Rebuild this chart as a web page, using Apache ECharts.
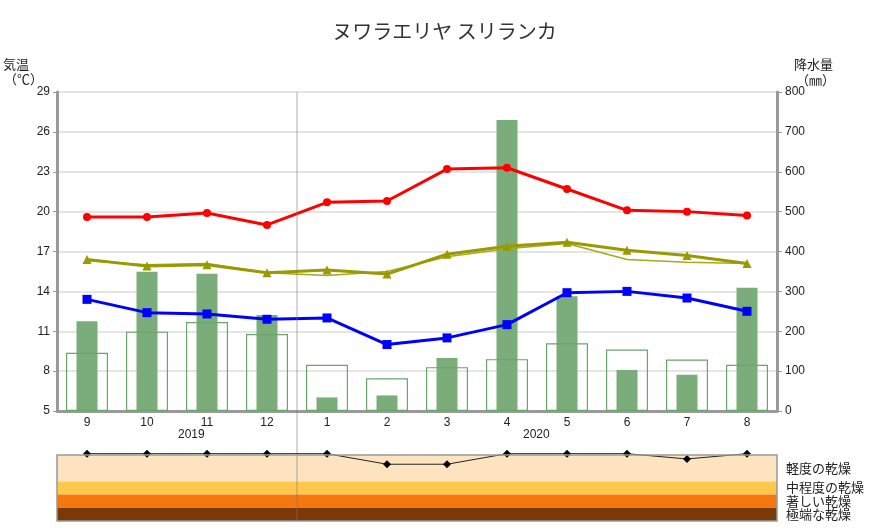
<!DOCTYPE html>
<html>
<head>
<meta charset="utf-8">
<script src="https://cdn.jsdelivr.net/npm/echarts@6/dist/echarts.min.js"></script>
<style>
  html, body { margin: 0; padding: 0; background: #fff; }
  #main { width: 889px; height: 530px; }
</style>
</head>
<body>
<div id="main"></div>
<script>
// 月（2019/9 - 2020/8）
const months = ['9', '10', '11', '12', '1', '2', '3', '4', '5', '6', '7', '8'];
// 気温（℃）
const tMax = [19.6, 19.6, 19.9, 19.0, 20.7, 20.8, 23.2, 23.3, 21.7, 20.1, 20.0, 19.7];
const tMin = [13.4, 12.4, 12.3, 11.9, 12.0, 10.0, 10.5, 11.5, 13.9, 14.0, 13.5, 12.5];
const tMean = [16.4, 15.9, 16.0, 15.4, 15.6, 15.3, 16.8, 17.4, 17.7, 17.1, 16.7, 16.1];
const tMeanNormal = [16.3, 16.0, 16.1, 15.4, 15.2, 15.5, 16.6, 17.2, 17.6, 16.4, 16.2, 16.1];
// 降水量（mm）
const precip = [225, 349, 344, 241, 34, 39, 133, 730, 288, 103, 91, 309];
const precipNormal = [146, 199, 223, 193, 116, 82, 110, 130, 170, 154, 129, 116];
// 乾燥度
const drought = [0.1, 0.1, 0.1, 0.1, 0.1, -0.7, -0.7, 0.1, 0.1, 0.1, -0.3, 0.1];
const droughtBands = [[0, -2], [-2, -3], [-3, -4], [-4, -5]];
const droughtColors = ['#fde3c0', '#ffc84a', '#f4780f', '#7a3a08'];
const droughtNames = ['軽度の乾燥', '中程度の乾燥', '著しい乾燥', '極端な乾燥'];

const FONT = 'Liberation Sans, Noto Sans CJK JP, sans-serif';
const JP = 'Noto Sans CJK JP, sans-serif';

const chart = echarts.init(document.getElementById('main'));

const option = {
    animation: false,
    backgroundColor: '#fff',
    title: {
        text: 'ヌワラエリヤ スリランカ',
        left: 'center',
        top: 16,
        textStyle: { fontSize: 20, fontWeight: 'normal', color: '#333', fontFamily: JP }
    },
    grid: [
        { left: 57, right: 112, top: 92, bottom: 119 },
        { left: 57, right: 112, top: 455, bottom: 9 }
    ],
    xAxis: [
        {
            type: 'category', gridIndex: 0, data: months,
            axisLine: { lineStyle: { color: '#999', width: 3 } },
            axisTick: { length: 15, lineStyle: { color: '#999', width: 1 } },
            axisLabel: { color: '#222', fontSize: 12, margin: 6, fontFamily: FONT }
        },
        { type: 'category', gridIndex: 0, data: months, show: false },
        { type: 'category', gridIndex: 1, data: months, show: false }
    ],
    yAxis: [
        {
            type: 'value', gridIndex: 0, min: 5, max: 29, interval: 3,
            axisLine: { show: true, lineStyle: { color: '#999', width: 3 } },
            axisTick: { show: true, length: 4, lineStyle: { color: '#999' } },
            splitLine: { lineStyle: { color: '#dcdcdc', width: 1.5 } },
            axisLabel: { color: '#222', fontSize: 12, margin: 7, fontFamily: FONT }
        },
        {
            type: 'value', gridIndex: 0, position: 'right', min: 0, max: 800, interval: 100,
            axisLine: { show: true, lineStyle: { color: '#999', width: 3 } },
            axisTick: { show: true, length: 5, lineStyle: { color: '#999' } },
            splitLine: { show: false },
            axisLabel: { color: '#222', fontSize: 12, margin: 8, fontFamily: FONT }
        },
        { type: 'value', gridIndex: 1, min: -5, max: 0, show: false }
    ],
    series: [
        {
            name: '降水量', type: 'bar', xAxisIndex: 0, yAxisIndex: 1,
            data: precip, barWidth: 21,
            itemStyle: { color: '#7aad7a' }
        },
        {
            name: '降水量平年値', type: 'bar', xAxisIndex: 1, yAxisIndex: 1,
            data: precipNormal, barWidth: 42,
            itemStyle: { color: 'rgba(0,0,0,0)', borderColor: '#6aa56a', borderWidth: 1.2 }
        },
        {
            name: '平均気温平年値', type: 'line', xAxisIndex: 0, yAxisIndex: 0,
            data: tMeanNormal, symbol: 'none',
            lineStyle: { color: '#a8a820', width: 1.5 }
        },
        {
            name: '平均気温', type: 'line', xAxisIndex: 0, yAxisIndex: 0,
            data: tMean, symbol: 'triangle', symbolSize: 9,
            lineStyle: { color: '#999900', width: 3 },
            itemStyle: { color: '#999900' }
        },
        {
            name: '最低気温', type: 'line', xAxisIndex: 0, yAxisIndex: 0,
            data: tMin, symbol: 'rect', symbolSize: 9,
            lineStyle: { color: '#0000ff', width: 3 },
            itemStyle: { color: '#0000ff' }
        },
        {
            name: '最高気温', type: 'line', xAxisIndex: 0, yAxisIndex: 0,
            data: tMax, symbol: 'circle', symbolSize: 8,
            lineStyle: { color: '#ff0000', width: 3 },
            itemStyle: { color: '#ff0000' }
        },
        {
            name: '乾燥度', type: 'line', xAxisIndex: 2, yAxisIndex: 2,
            data: drought, symbol: 'diamond', symbolSize: 8, clip: false, z: 6,
            lineStyle: { color: '#222', width: 1 },
            itemStyle: { color: '#000' },
            markArea: {
                silent: true,
                data: droughtBands.map((b, i) => [
                    { yAxis: b[0], itemStyle: { color: droughtColors[i], opacity: 1 } },
                    { yAxis: b[1] }
                ])
            }
        }
    ],
    graphic: [
        // 年の区切り線
        { type: 'line', shape: { x1: 297, y1: 92, x2: 297, y2: 521 }, style: { stroke: 'rgba(120,120,120,0.6)', lineWidth: 1 }, z: 5 },
        // 乾燥度パネルの枠
        { type: 'rect', shape: { x: 57, y: 455, width: 720, height: 66 }, style: { fill: 'none', stroke: '#999', lineWidth: 1.5 }, z: 10 },
        { type: 'text', left: 178, top: 429, style: { text: '2019', fill: '#222', font: '12px ' + FONT } },
        { type: 'text', left: 523, top: 429, style: { text: '2020', fill: '#222', font: '12px ' + FONT } },
        { type: 'text', left: 3, top: 58, style: { text: '気温', font: '13px ' + JP, fill: '#222' } },
        { type: 'text', left: 4, top: 73, style: { text: '（℃）', font: '13px ' + JP, fill: '#222' } },
        { type: 'text', left: 794, top: 58, style: { text: '降水量', font: '13px ' + JP, fill: '#222' } },
        { type: 'text', left: 796, top: 74, style: { text: '（㎜）', font: '13px ' + JP, fill: '#222' } }
    ].concat(droughtNames.map((name, i) => ({
        type: 'text', left: 786, top: [462, 481, 495, 508][i],
        style: { text: name, font: '13px ' + JP, fill: '#222' }
    })))
};

chart.setOption(option);
</script>
</body>
</html>
